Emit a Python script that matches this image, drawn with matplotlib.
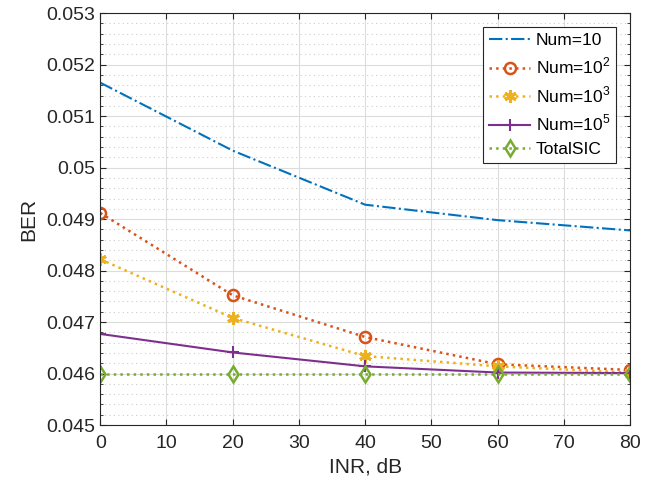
import numpy as np
import matplotlib
matplotlib.use("Agg")
import matplotlib.pyplot as plt
from matplotlib.ticker import MultipleLocator

plt.rcParams['font.family'] = ['Liberation Sans', 'DejaVu Sans']
plt.rcParams['mathtext.fontset'] = 'custom'
plt.rcParams['mathtext.rm'] = 'Liberation Sans'

inr = [0, 20, 40, 60, 80]
ber_num10 = [0.05165, 0.05033, 0.04928, 0.04898, 0.04878]
ber_num1e2 = [0.04912, 0.04752, 0.04671, 0.04618, 0.04607]
ber_num1e3 = [0.04822, 0.04708, 0.04634, 0.04614, 0.04602]
ber_num1e5 = [0.04677, 0.04641, 0.04614, 0.04602, 0.04601]
ber_total = [0.0460, 0.0460, 0.0460, 0.0460, 0.0460]

fig = plt.figure(figsize=(6.64, 4.88), dpi=100)
ax = fig.add_axes([0.151, 0.129, 0.798, 0.844])

ax.plot(inr, ber_num10, color='#0072BD', linestyle='-.', linewidth=1.5, label='Num=10')
ax.plot(inr, ber_num1e2, color='#D95319', linestyle=':', linewidth=1.8, marker='o',
        markersize=8, markerfacecolor='none', markeredgewidth=1.8, label='Num=$10^2$')
ax.plot(inr, ber_num1e3, color='#EDB120', linestyle=':', linewidth=1.8, marker=(6, 2, 0),
        markersize=9, markeredgewidth=2.2, label='Num=$10^3$')
ax.plot(inr, ber_num1e5, color='#7E2F8E', linestyle='-', linewidth=1.5, marker='+',
        markersize=9, markeredgewidth=1.5, label='Num=$10^5$')
ax.plot(inr, ber_total, color='#77AC30', linestyle=':', linewidth=1.8, marker='d',
        markersize=8, markerfacecolor='none', markeredgewidth=1.8, label='TotalSIC')

ax.set_xlim(0, 80)
ax.set_ylim(0.045, 0.053)
ax.set_xticks(np.arange(0, 81, 10))
ax.set_yticks(np.arange(0.045, 0.05301, 0.001))
ax.set_yticklabels(['0.045', '0.046', '0.047', '0.048', '0.049', '0.05', '0.051', '0.052', '0.053'])
ax.yaxis.set_minor_locator(MultipleLocator(0.0002))
ax.grid(which='major', color='#dcdcdc', linewidth=0.8)
ax.grid(which='minor', axis='y', color='#cccccc', linestyle=(0, (1, 3)), linewidth=0.8)
ax.tick_params(which='both', direction='in', top=True, right=True, labelsize=14, colors='#262626')
ax.tick_params(axis='x', pad=7)
ax.tick_params(which='minor', length=2.5)
ax.tick_params(which='major', length=4)
for s in ax.spines.values():
    s.set_color('#262626')
    s.set_linewidth(0.8)

ax.set_xlabel('INR, dB', fontsize=15, color='#262626', labelpad=4)
ax.set_ylabel('BER', fontsize=15, color='#262626', labelpad=6)

leg = ax.legend(loc='upper right', fontsize=12.5, fancybox=False, framealpha=1,
                edgecolor='#262626', handlelength=2.4, borderpad=0.35, labelspacing=0.45,
                handletextpad=0.3, borderaxespad=0, bbox_to_anchor=(0.974, 0.966))
leg.get_frame().set_linewidth(0.8)

fig.savefig('out.png', dpi=100)
